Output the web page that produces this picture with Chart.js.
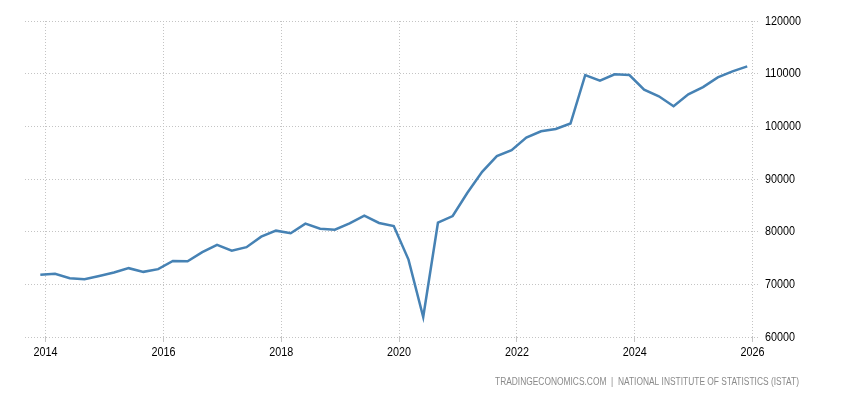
<!DOCTYPE html>
<html>
<head>
<meta charset="utf-8">
<script src="https://cdn.jsdelivr.net/npm/chart.js@4"></script>
<style>
  html, body { margin: 0; padding: 0; background: #fff; }
  #wrap { width: 850px; height: 400px; }
</style>
</head>
<body>
<div id="wrap"><canvas id="chart"></canvas></div>
<script>
// quarterly values, first point is end of 2013
const firstPoint = 2013.91;
const values = [
  71800, 72000, 71170, 70980, 71600, 72240, 73070, 72370, 72880, 74450,
  74390, 76100, 77480, 76400, 77050, 79050, 80190, 79700, 81520, 80570,
  80380, 81590, 83030, 81650, 81080, 74700, 63790, 81700, 82970, 87390,
  91360, 94340, 95470, 97880, 99070, 99500, 100530, 109730, 108670, 109870,
  109730, 106970, 105700, 103810, 106080, 107460, 109300, 110440, 111380
];
const yearTicks = [2014, 2016, 2018, 2020, 2022, 2024, 2026];
const sourceText = 'TRADINGECONOMICS.COM  |  NATIONAL INSTITUTE OF STATISTICS (ISTAT)';

const points = values.map((v, i) => ({ x: firstPoint + i * 0.25, y: v }));

const labelFont = '13px "Liberation Sans", Arial, sans-serif';
const digitWidth = 6; // the original labels use a narrow face

// tick labels are drawn here so they can be squeezed to a narrow width
const labelPlugin = {
  id: 'labels',
  afterDraw(chart) {
    const ctx = chart.ctx;
    const xs = chart.scales.x;
    const ys = chart.scales.y;
    ctx.save();
    ctx.font = labelFont;
    ctx.fillStyle = '#000';
    ctx.textBaseline = 'middle';
    ctx.textAlign = 'center';
    xs.ticks.forEach(t => {
      const s = String(t.value);
      ctx.fillText(s, xs.getPixelForValue(t.value), ys.bottom + 15, s.length * digitWidth);
    });
    ctx.textAlign = 'left';
    ys.ticks.forEach(t => {
      const s = String(t.value);
      ctx.fillText(s, xs.right + 6, ys.getPixelForValue(t.value), s.length * digitWidth);
    });
    ctx.font = '10px "Liberation Sans", Arial, sans-serif';
    ctx.fillStyle = '#8a8a8a';
    ctx.textAlign = 'right';
    ctx.fillText(sourceText, 799, 382, 304);
    ctx.restore();
  }
};

const gridColor = '#c4c4c4';

new Chart(document.getElementById('chart'), {
  type: 'line',
  data: {
    datasets: [{
      data: points,
      borderColor: '#4682b4',
      borderWidth: 2.5,
      pointRadius: 0,
      tension: 0,
      fill: false,
    }],
  },
  options: {
    responsive: true,
    maintainAspectRatio: false,
    animation: false,
    layout: { padding: { left: 25, top: 21, right: 0, bottom: 0 } },
    plugins: { legend: { display: false }, tooltip: { enabled: false } },
    scales: {
      x: {
        type: 'linear',
        min: 2013.65,
        max: 2026.11,
        afterBuildTicks(scale) {
          scale.ticks = yearTicks.map(v => ({ value: v }));
        },
        afterFit(scale) { scale.height = 63; },
        grid: { color: gridColor, tickLength: 5, tickColor: gridColor },
        border: { display: false, dash: [1, 2] },
        ticks: { color: 'transparent', maxRotation: 0 },
      },
      y: {
        position: 'right',
        min: 60000,
        max: 120000,
        afterFit(scale) { scale.width = 91; },
        grid: { color: gridColor, drawTicks: false },
        border: { display: false, dash: [1, 2] },
        ticks: { stepSize: 10000, color: 'transparent' },
      },
    },
  },
  plugins: [labelPlugin],
});
</script>
</body>
</html>
